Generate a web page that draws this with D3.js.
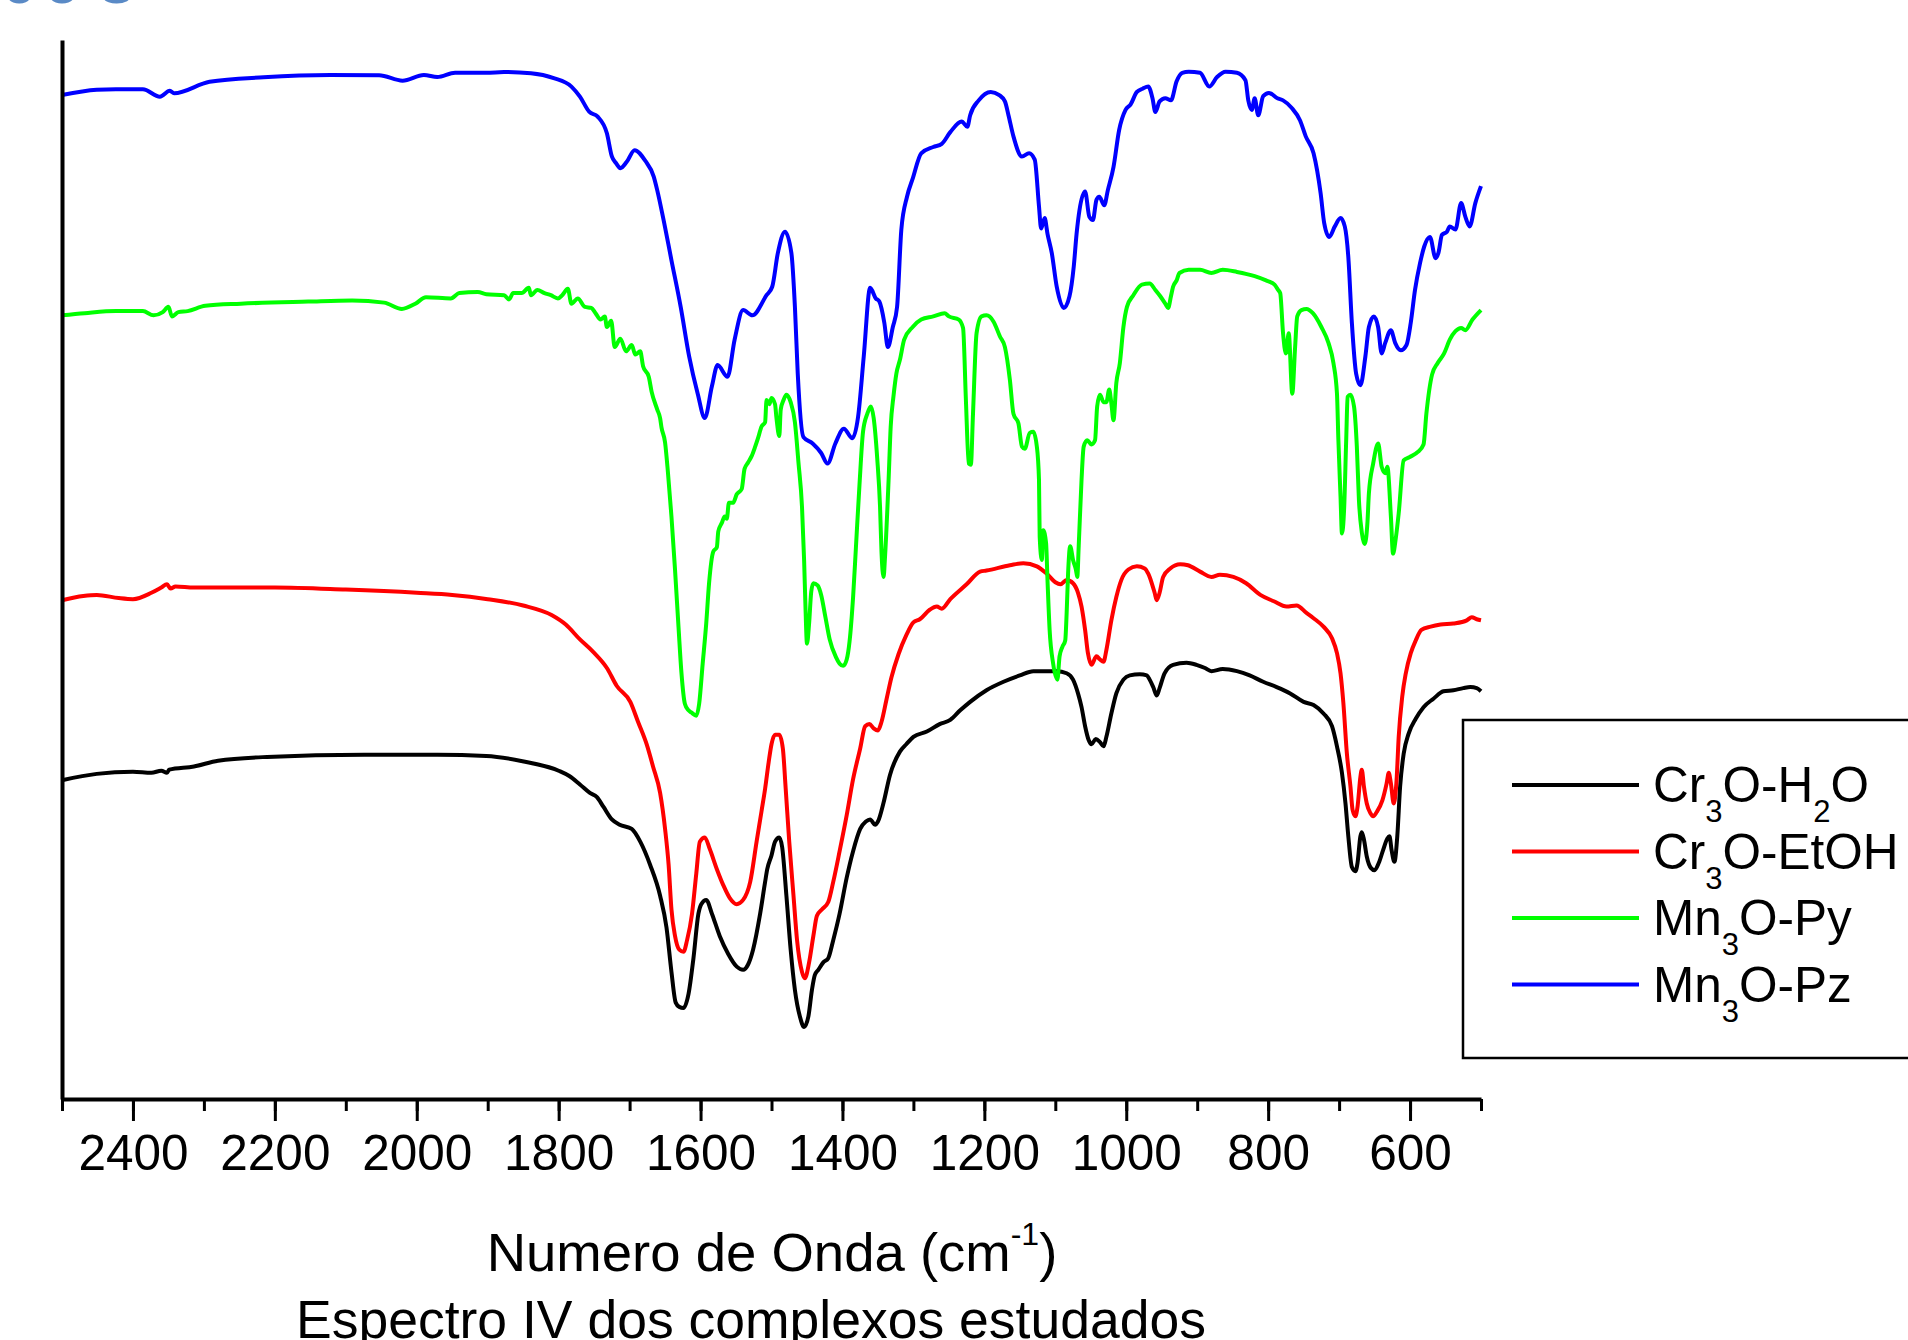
<!DOCTYPE html>
<html>
<head>
<meta charset="utf-8">
<script src="https://cdn.jsdelivr.net/npm/d3@7"></script>
<style>
  html, body { margin: 0; padding: 0; background: #fff; }
  svg { display: block; }
  text { font-family: "Liberation Sans", Arial, Helvetica, sans-serif; }
</style>
</head>
<body>
<svg id="chart" width="1908" height="1340"></svg>
<script>
// ---- data: [wavenumber (cm-1), transmittance (a.u., stacked)] ----
const crH2O = [[2500,30.1],[2451,30.7],[2400,30.9],[2374,30.8],[2360,31.0],[2352,30.8],[2349,31.1],[2314,31.4],[2280,31.95],[2211,32.3],[2074,32.5],[1971,32.5],[1902,32.4],[1851,31.9],[1800,31.0],[1785,30.5],[1770,29.7],[1756,28.9],[1746,28.5],[1737,27.6],[1725,26.4],[1714,25.9],[1697,25.5],[1685,24.3],[1671,22.1],[1657,19.2],[1648,16.2],[1641,12.0],[1635,9.1],[1630,8.7],[1624,8.6],[1617,9.9],[1610,13.3],[1603,17.5],[1599,18.4],[1592,18.8],[1584,17.5],[1573,15.4],[1561,13.7],[1549,12.5],[1540,12.2],[1533,12.7],[1526,14.1],[1516,17.5],[1509,20.5],[1506,21.7],[1500,23.0],[1495,24.3],[1489,24.7],[1485,23.8],[1479,19.2],[1473,14.1],[1467,10.3],[1460,7.8],[1454,6.8],[1448,7.8],[1443,10.3],[1439,11.7],[1434,12.2],[1427,12.9],[1420,13.3],[1413,15.0],[1404,17.5],[1394,20.9],[1385,23.4],[1375,25.5],[1367,26.2],[1361,26.4],[1354,25.9],[1350,26.2],[1342,28.0],[1333,30.6],[1319,32.8],[1310,33.5],[1300,34.2],[1281,34.7],[1263,35.4],[1248,35.8],[1234,36.7],[1220,37.5],[1197,38.6],[1173,39.4],[1150,40.0],[1131,40.4],[1112,40.4],[1098,40.4],[1084,40.2],[1075,39.6],[1068,38.3],[1063,37.0],[1058,35.2],[1053,33.9],[1049,33.5],[1043,34.0],[1037,33.7],[1032,33.3],[1028,34.2],[1021,36.4],[1014,38.3],[1004,39.6],[995,40.0],[981,40.1],[971,40.0],[967,39.6],[962,38.9],[957,38.1],[953,38.8],[946,40.2],[934,41.0],[915,41.2],[901,41.0],[889,40.7],[880,40.4],[864,40.6],[844,40.4],[826,40.0],[807,39.4],[788,38.9],[769,38.3],[750,37.5],[736,37.2],[722,36.4],[710,35.2],[703,33.3],[696,30.8],[691,27.9],[687,24.8],[682,21.9],[677,21.5],[674,22.3],[670,24.8],[668,25.2],[665,24.5],[661,22.9],[655,21.8],[650,21.6],[644,22.3],[638,23.5],[632,24.6],[629,24.8],[626,23.5],[622,22.4],[618,24.8],[614,29.5],[609,32.6],[602,34.5],[592,35.9],[581,37.0],[567,37.8],[553,38.5],[539,38.6],[525,38.8],[515,38.9],[506,38.8],[500,38.5]];

const crEtOH = [[2500,47.1],[2470,47.5],[2451,47.6],[2420,47.3],[2400,47.2],[2374,47.8],[2360,48.3],[2352,48.6],[2347,48.2],[2340,48.4],[2314,48.3],[2200,48.3],[2100,48.1],[2000,47.8],[1950,47.6],[1900,47.2],[1850,46.6],[1810,45.7],[1790,44.8],[1770,43.4],[1751,42.2],[1732,40.7],[1718,39.0],[1699,37.5],[1688,35.6],[1676,33.5],[1667,31.4],[1657,28.9],[1650,25.5],[1645,22.1],[1641,17.9],[1636,15.4],[1630,14.1],[1624,13.9],[1619,15.0],[1612,17.5],[1606,21.3],[1601,24.3],[1594,24.7],[1587,23.6],[1577,21.7],[1568,20.2],[1559,19.0],[1549,18.4],[1540,18.8],[1530,20.5],[1521,24.3],[1514,27.2],[1509,29.3],[1504,31.8],[1500,33.5],[1495,34.4],[1489,34.4],[1484,33.1],[1480,29.3],[1475,24.3],[1469,19.2],[1464,15.0],[1457,12.0],[1453,11.4],[1447,12.9],[1441,15.4],[1436,17.3],[1429,17.9],[1420,18.6],[1413,20.5],[1404,23.4],[1394,26.8],[1385,30.2],[1375,33.1],[1368,35.2],[1362,35.4],[1356,35.0],[1350,34.8],[1345,35.6],[1338,37.7],[1331,39.8],[1321,42.0],[1310,43.8],[1300,45.0],[1291,45.3],[1277,46.2],[1267,46.5],[1260,46.3],[1248,47.2],[1225,48.6],[1206,49.8],[1197,49.9],[1164,50.4],[1145,50.6],[1126,50.3],[1112,49.6],[1100,48.8],[1093,48.6],[1084,49.0],[1075,48.7],[1068,47.8],[1063,46.5],[1058,44.3],[1054,42.1],[1049,41.0],[1042,41.8],[1037,41.5],[1032,41.3],[1028,42.4],[1021,45.2],[1014,47.4],[1007,49.0],[997,50.0],[985,50.3],[974,50.1],[969,49.6],[964,48.7],[960,47.8],[957,47.1],[953,47.8],[948,49.3],[938,50.1],[924,50.5],[913,50.4],[896,49.8],[880,49.3],[868,49.5],[849,49.3],[831,48.7],[811,47.6],[792,47.0],[774,46.5],[760,46.6],[746,45.9],[736,45.4],[722,44.6],[710,43.5],[703,42.1],[698,40.2],[694,37.4],[689,32.6],[684,29.5],[681,27.3],[677,26.7],[674,27.6],[670,30.4],[668,31.1],[665,29.5],[661,27.9],[656,27.0],[652,26.7],[647,27.1],[639,28.2],[633,29.8],[630,30.8],[627,29.8],[623,27.9],[619,30.1],[616,34.2],[611,38.0],[606,40.2],[599,42.1],[592,43.3],[584,44.3],[571,44.6],[557,44.8],[539,44.9],[520,45.2],[513,45.5],[506,45.3],[500,45.2]];

const mnPy = [[2500,74.0],[2468,74.2],[2424,74.4],[2386,74.4],[2371,74.0],[2358,74.3],[2350,74.8],[2345,73.9],[2336,74.3],[2323,74.4],[2298,74.9],[2248,75.1],[2153,75.3],[2091,75.4],[2046,75.2],[2021,74.6],[2002,75.1],[1987,75.7],[1952,75.6],[1940,76.1],[1914,76.2],[1902,76.0],[1877,75.9],[1870,75.5],[1864,76.1],[1852,76.1],[1842,76.6],[1839,75.9],[1830,76.4],[1820,76.1],[1811,75.9],[1801,75.6],[1795,75.9],[1787,76.5],[1782,75.1],[1773,75.6],[1763,74.8],[1754,74.7],[1748,74.2],[1741,73.6],[1735,73.9],[1732,72.9],[1726,73.5],[1721,71.0],[1713,71.8],[1705,70.6],[1697,71.2],[1692,70.3],[1685,70.6],[1681,69.2],[1673,68.2],[1669,66.8],[1661,65.1],[1657,64.3],[1655,63.4],[1650,62.0],[1646,59.2],[1641,55.0],[1636,50.0],[1631,44.5],[1627,40.3],[1622,37.3],[1617,36.7],[1613,36.5],[1606,36.2],[1602,37.3],[1597,41.1],[1592,44.9],[1588,48.7],[1582,51.7],[1577,52.1],[1575,53.6],[1570,54.4],[1566,55.0],[1563,54.8],[1560,56.3],[1554,56.3],[1549,57.1],[1542,57.6],[1538,59.5],[1533,60.1],[1528,60.7],[1523,61.6],[1519,62.4],[1514,63.5],[1509,63.9],[1507,66.0],[1503,65.6],[1500,66.2],[1495,65.6],[1493,64.3],[1489,62.6],[1487,65.1],[1483,66.0],[1479,66.5],[1473,65.8],[1467,63.9],[1462,60.1],[1457,55.9],[1454,50.8],[1452,46.2],[1450,43.0],[1447,44.9],[1444,47.9],[1441,48.7],[1435,48.5],[1430,47.6],[1424,45.5],[1418,43.4],[1409,41.7],[1404,41.1],[1399,40.9],[1394,41.5],[1390,43.2],[1385,47.4],[1381,52.1],[1376,58.0],[1371,63.0],[1365,64.7],[1360,65.4],[1356,64.3],[1351,60.5],[1347,55.9],[1345,51.7],[1342,49.3],[1340,51.2],[1335,58.4],[1332,63.5],[1328,66.4],[1324,68.5],[1319,69.8],[1313,71.7],[1301,72.9],[1289,73.6],[1272,73.9],[1256,74.2],[1250,73.9],[1236,73.6],[1230,72.8],[1226,66.0],[1222,60.0],[1219,59.9],[1216,64.7],[1211,72.3],[1204,73.9],[1197,74.0],[1187,73.4],[1178,72.0],[1171,71.0],[1164,67.9],[1159,64.7],[1152,63.8],[1147,61.6],[1143,61.4],[1136,62.9],[1131,63.0],[1126,61.6],[1123,58.5],[1122,53.1],[1119,50.9],[1117,53.7],[1113,52.5],[1111,49.0],[1108,44.3],[1103,41.1],[1097,39.6],[1094,41.8],[1090,42.7],[1086,43.3],[1084,45.9],[1082,49.6],[1079,52.2],[1075,50.9],[1071,50.0],[1069,49.3],[1067,52.2],[1063,58.5],[1060,61.6],[1055,62.2],[1049,61.8],[1044,62.2],[1041,65.4],[1037,66.5],[1032,65.8],[1028,65.8],[1024,67.0],[1021,65.7],[1018,64.1],[1014,67.6],[1009,69.5],[1004,72.9],[999,74.8],[990,75.9],[978,76.9],[967,77.0],[959,76.4],[952,75.8],[945,75.1],[941,74.7],[937,75.8],[934,76.7],[929,77.3],[925,78.0],[912,78.3],[896,78.3],[880,78.0],[864,78.3],[844,78.1],[819,77.7],[803,77.3],[791,76.9],[786,76.4],[783,76.1],[779,72.3],[775,70.4],[771,72.3],[766,66.6],[762,71.0],[759,73.9],[753,74.5],[746,74.6],[737,74.2],[725,72.9],[715,71.4],[708,69.5],[703,66.6],[701,62.2],[698,56.9],[696,53.4],[693,55.6],[690,62.2],[688,66.3],[684,66.5],[679,65.4],[675,61.6],[672,56.5],[668,53.5],[664,52.4],[660,54.5],[658,57.2],[652,60.0],[645,61.9],[640,59.7],[635,59.1],[632,59.7],[627,55.0],[624,51.5],[620,53.0],[616,55.3],[609,60.3],[601,60.6],[589,61.1],[581,61.8],[577,64.7],[569,68.4],[561,69.5],[552,70.4],[544,71.7],[536,72.5],[528,72.8],[522,72.6],[512,73.6],[500,74.5]];

const mnPz = [[2500,94.8],[2451,95.3],[2424,95.35],[2386,95.35],[2362,94.65],[2348,95.2],[2342,94.97],[2292,96.06],[2216,96.48],[2122,96.7],[2053,96.67],[2020,96.16],[1990,96.7],[1971,96.5],[1946,96.9],[1902,96.9],[1877,96.98],[1839,96.86],[1807,96.4],[1782,95.6],[1770,94.65],[1757,93.23],[1745,92.76],[1732,91.19],[1725,89.0],[1719,88.36],[1713,87.9],[1704,88.5],[1693,89.6],[1678,88.6],[1666,87.1],[1661,85.8],[1653,83.3],[1641,79.2],[1628,74.8],[1616,70.1],[1604,66.6],[1594,64.3],[1584,67.3],[1576,69.3],[1562,68.2],[1552,71.7],[1540,74.5],[1527,74.0],[1507,75.9],[1499,76.7],[1491,79.9],[1481,81.9],[1472,79.9],[1467,74.8],[1463,68.5],[1455,62.5],[1442,61.9],[1430,61.0],[1421,60.0],[1410,61.9],[1398,63.3],[1386,62.4],[1378,64.4],[1370,70.1],[1361,76.6],[1353,75.6],[1348,75.3],[1341,73.3],[1336,71.0],[1329,72.9],[1323,74.8],[1317,82.1],[1309,85.2],[1301,86.9],[1289,89.3],[1272,89.9],[1260,90.2],[1248,91.3],[1232,92.3],[1224,91.8],[1220,92.9],[1208,94.3],[1191,95.1],[1179,94.8],[1171,94.2],[1166,92.9],[1159,90.9],[1147,89.0],[1137,89.3],[1129,88.7],[1123,84.3],[1120,82.2],[1115,83.2],[1111,81.7],[1105,79.9],[1098,76.7],[1088,74.7],[1080,75.8],[1074,78.6],[1070,81.7],[1066,83.9],[1058,85.7],[1052,83.3],[1047,83.0],[1042,84.9],[1038,85.2],[1031,84.4],[1026,85.8],[1018,88.0],[1010,91.5],[1001,93.4],[994,93.9],[985,95.1],[977,95.4],[969,95.6],[963,94.5],[959,93.2],[953,94.2],[945,94.5],[937,94.3],[929,96.1],[921,96.9],[912,97.0],[896,96.9],[883,95.6],[872,96.5],[860,97.0],[844,96.9],[832,96.2],[828,94.3],[823,93.4],[819,94.5],[814,92.9],[807,94.7],[799,95.0],[787,94.5],[779,94.3],[767,93.6],[755,92.4],[747,90.9],[736,89.3],[726,85.5],[721,82.7],[714,81.4],[706,82.4],[698,83.2],[692,82.4],[687,79.5],[682,73.3],[676,68.5],[670,67.4],[663,70.1],[658,72.9],[651,73.9],[645,72.9],[640,70.4],[635,71.4],[627,72.6],[621,71.4],[613,70.7],[605,71.2],[599,73.3],[593,76.4],[586,78.9],[580,80.5],[572,81.4],[564,79.4],[560,79.9],[555,81.6],[548,81.9],[544,82.4],[536,82.1],[528,84.6],[522,83.3],[516,82.4],[508,84.6],[500,86.2]];

const seriesNames = ["Cr3O-H2O", "Cr3O-EtOH", "Mn3O-Py", "Mn3O-Pz"];
const seriesColors = ["#000000", "#ff0000", "#00ff00", "#0000ff"];
const seriesData = [crH2O, crEtOH, mnPy, mnPz];
// legend labels split into [text, isSubscript]
const legendParts = [
  [["Cr",0],["3",1],["O-H",0],["2",1],["O",0]],
  [["Cr",0],["3",1],["O-EtOH",0]],
  [["Mn",0],["3",1],["O-Py",0]],
  [["Mn",0],["3",1],["O-Pz",0]]
];
const majorTicks = [2400, 2200, 2000, 1800, 1600, 1400, 1200, 1000, 800, 600];
const minorTicks = d3.range(2500, 499, -100);
const xDomain = [2500, 500];
const yDomain = [0, 100];
const xTitle = "Numero de Onda (cm";
const xTitleSup = "-1";
const subtitle = "Espectro IV dos complexos estudados";
// fragments of a heading cut off by the top edge of the picture
const headingBits = ["c", "o", "O"];

// ---- layout ----
const svg = d3.select("#chart");
const padL = 62, padR = 1481, padT = 40, padB = 1099;
const x = d3.scaleLinear().domain(xDomain).range([padL, padR]);
const y = d3.scaleLinear().domain(yDomain).range([padB, padT]);

// cut-off heading slivers at the top-left edge
const hd = svg.append("text").attr("y", 3)
  .style("font-size", "56px").style("font-weight", "bold").attr("fill", "#5a8ac6");
[3, 45, 95].forEach((hx, i) => hd.append("tspan").attr("x", hx).text(headingBits[i]));

// curves
const line = d3.line().x(d => x(d[0])).y(d => y(d[1])).curve(d3.curveMonotoneX);
const g = svg.append("g");
seriesData.forEach((s, i) => {
  g.append("path")
    .datum(s)
    .attr("d", line)
    .attr("fill", "none")
    .attr("stroke", seriesColors[i])
    .attr("stroke-width", 4)
    .attr("stroke-linejoin", "round");
});

// x axis: minor ticks
svg.append("g")
  .attr("transform", `translate(0,${padB})`)
  .call(d3.axisBottom(x).tickValues(minorTicks).tickSize(12).tickSizeOuter(0).tickFormat(""))
  .call(a => a.select(".domain").remove())
  .call(a => a.selectAll("line").attr("stroke", "#000").attr("stroke-width", 3));

// x axis: major ticks + labels
const xa = svg.append("g")
  .attr("transform", `translate(0,${padB})`)
  .call(d3.axisBottom(x).tickValues(majorTicks).tickSize(22).tickSizeOuter(0).tickPadding(14).tickFormat(d3.format("d")));
xa.select(".domain").attr("stroke", "#000").attr("stroke-width", 4);
xa.selectAll(".tick line").attr("stroke", "#000").attr("stroke-width", 3);
xa.selectAll(".tick text")
  .attr("fill", "#000")
  .style("font-size", "49.5px")
  .style("font-family", "'Liberation Sans', Arial, sans-serif");

// y axis line (no ticks)
svg.append("g")
  .attr("transform", `translate(${padL},0)`)
  .call(d3.axisLeft(y).tickValues([]).tickSizeOuter(0))
  .call(a => a.select(".domain").attr("stroke", "#000").attr("stroke-width", 4));

// axis title
const t1 = svg.append("text")
  .attr("x", 772).attr("y", 1271)
  .attr("text-anchor", "middle")
  .style("font-size", "54.5px").attr("fill", "#000");
t1.append("tspan").text(xTitle);
t1.append("tspan").text(xTitleSup).style("font-size", "32px").attr("dy", -26);
t1.append("tspan").text(")").attr("dy", 26);

svg.append("text")
  .attr("x", 751).attr("y", 1338)
  .attr("text-anchor", "middle")
  .style("font-size", "53.5px").attr("fill", "#000")
  .text(subtitle);

// legend
const lg = svg.append("g");
lg.append("rect")
  .attr("x", 1463).attr("y", 720)
  .attr("width", 520).attr("height", 338)
  .attr("fill", "#fff").attr("stroke", "#000").attr("stroke-width", 2.5);
seriesNames.forEach((name, i) => {
  const yy = 785 + i * 66.5;
  lg.append("line")
    .attr("x1", 1512).attr("x2", 1639)
    .attr("y1", yy).attr("y2", yy)
    .attr("stroke", seriesColors[i]).attr("stroke-width", 4);
  const tx = lg.append("text")
    .attr("x", 1653).attr("y", yy + 17)
    .style("font-size", "49.5px").attr("fill", "#000");
  let prevSub = 0;
  legendParts[i].forEach(([txt, sub]) => {
    const ts = tx.append("tspan").text(txt);
    if (sub) ts.style("font-size", "31px");
    const shift = (sub ? 20 : 0) - (prevSub ? 20 : 0);
    if (shift !== 0) ts.attr("dy", shift);
    prevSub = sub;
  });
});
</script>
</body>
</html>
